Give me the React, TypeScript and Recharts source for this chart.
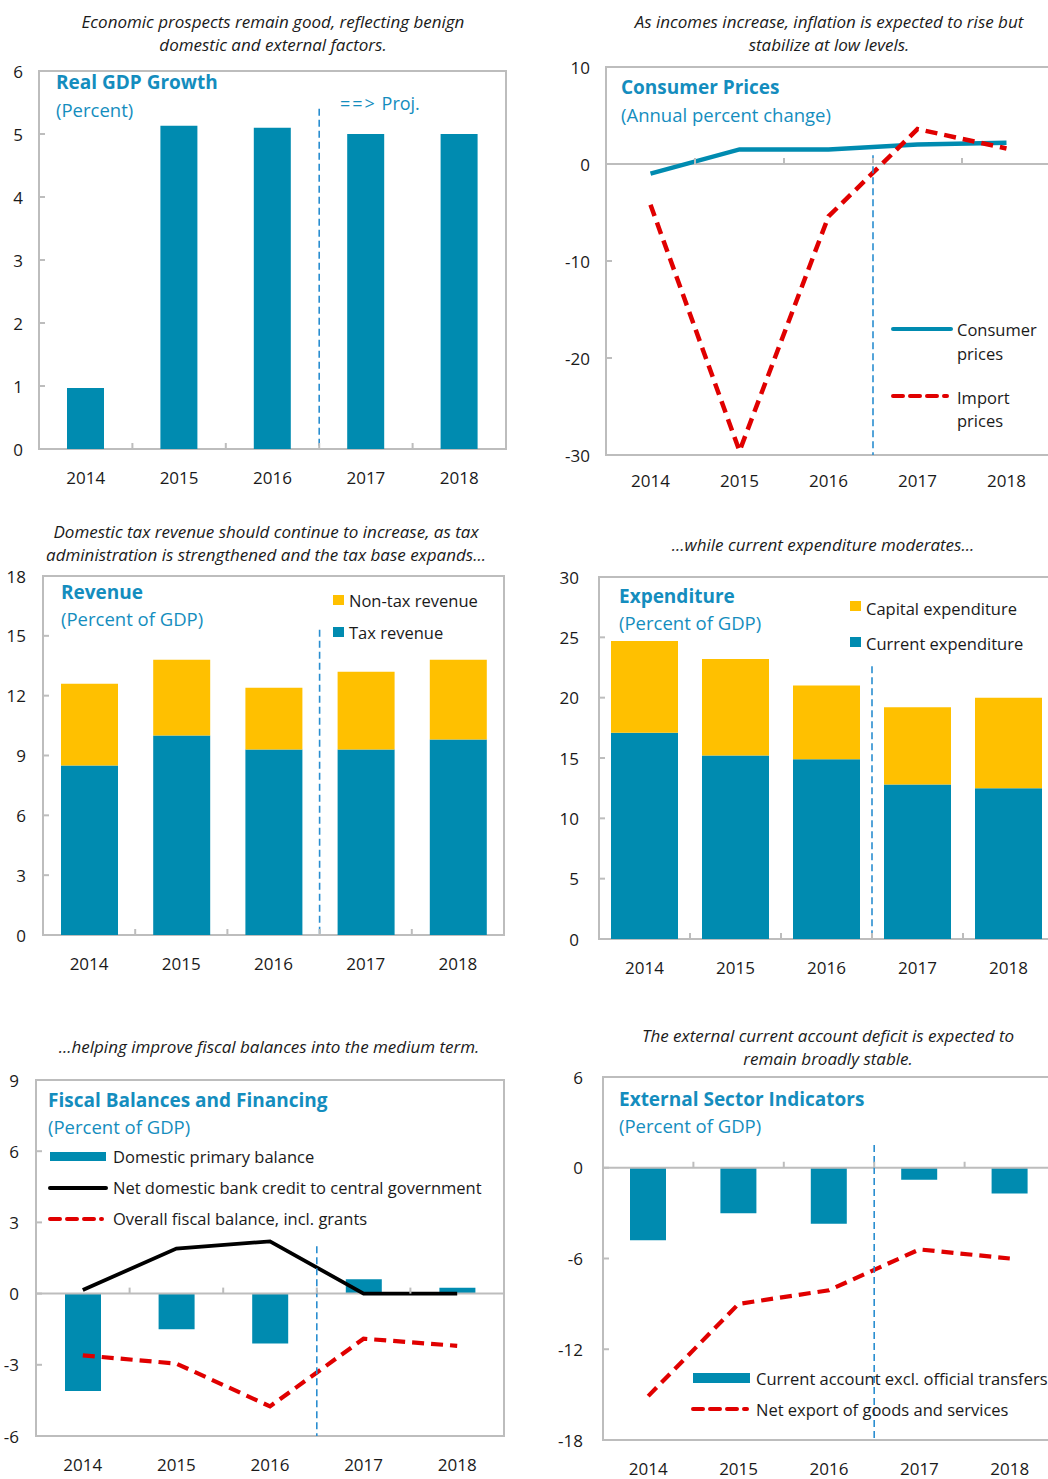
import React from 'react';
import { ComposedChart, Bar, Line, XAxis, YAxis, ReferenceLine } from 'recharts';

const years = ['2014', '2015', '2016', '2017', '2018'];

// values (percent / percent of GDP)
const gdpGrowth = [0.97, 5.13, 5.1, 5.0, 5.0];
const consumerPrices = [-1.0, 1.5, 1.5, 2.0, 2.2];
const importPrices = [-4.2, -29.6, -5.4, 3.6, 1.6];
const taxRevenue = [8.5, 10.0, 9.3, 9.3, 9.8];
const nonTaxRevenue = [4.1, 3.8, 3.1, 3.9, 4.0];
const currentExp = [17.1, 15.2, 14.9, 12.8, 12.5];
const capitalExp = [7.6, 8.0, 6.1, 6.4, 7.5];
const primaryBalance = [-4.1, -1.5, -2.1, 0.6, 0.25];
const bankCredit = [0.15, 1.9, 2.2, 0.0, 0.0];
const fiscalBalance = [-2.6, -2.95, -4.75, -1.9, -2.2];
const currentAccount = [-4.8, -3.0, -3.7, -0.8, -1.7];
const netExports = [-15.1, -9.0, -8.1, -5.4, -6.0];

const gdpTicks = [0, 1, 2, 3, 4, 5, 6];
const cpiTicks = [-30, -20, -10, 0, 10];
const revTicks = [0, 3, 6, 9, 12, 15, 18];
const expTicks = [0, 5, 10, 15, 20, 25, 30];
const fiscalTicks = [-6, -3, 0, 3, 6, 9];
const extTicks = [-18, -12, -6, 0, 6];

const FONT = '"Open Sans", "Noto Sans", sans-serif';
const BLUE = '#008BB0';
const TITLE = '#148DBE';
const YELLOW = '#FFC000';
const RED = '#E00000';
const FRAME = '#BDBDBD';
const TEXT = '#1a1a1a';
const PROJ = '#2A8ED0';

const AX_W = 50;
const AX_H = 45;
const PAD_T = 10;
const PAD_R = 4;

const SUB = 17;
const HEAD = 19;
const UNIT = 18.5;
const LEG = 16.5;

type Box = { x0: number; y0: number; x1: number; y1: number };

function Txt({ x, y, size = LEG, weight = 400, italic = false, color = TEXT, center = false, children }: any) {
  const style: React.CSSProperties = {
    position: 'absolute',
    left: x,
    top: y - size * 0.72,
    fontSize: size,
    lineHeight: `${size * 1.4}px`,
    fontFamily: FONT,
    fontWeight: weight,
    fontStyle: italic ? 'italic' : 'normal',
    color,
    whiteSpace: 'nowrap',
    transform: center ? 'translateX(-50%)' : undefined,
    textAlign: center ? 'center' : 'left',
  };
  return <div style={style}>{children}</div>;
}

function Panel({ box, ticks, projTop, zero, gap = 16, labelDy = 28, data, children }: any) {
  const b = box as Box;
  const pw = b.x1 - b.x0;
  const ph = b.y1 - b.y0;
  const lo = ticks[0];
  const hi = ticks[ticks.length - 1];
  const bw = pw / years.length;
  const zeroY = PAD_T + (hi / (hi - lo)) * ph;
  const bottom = PAD_T + ph;

  // year label plus a small tick on the zero line between categories
  const XTick = (props: any) => {
    const { x, payload } = props;
    const v = payload.value;
    return (
      <g>
        {v > 0 && (
          <line x1={x - bw / 2} x2={x - bw / 2} y1={zeroY} y2={zeroY - 6} stroke={FRAME} strokeWidth={2} />
        )}
        <text x={x} y={bottom + labelDy} textAnchor="middle" dominantBaseline="central" fontFamily={FONT} fontSize={17} fill={TEXT}>
          {years[v]}
        </text>
      </g>
    );
  };

  const YTick = (props: any) => {
    const { y, payload } = props;
    return (
      <g>
        <line x1={AX_W} x2={AX_W + 6} y1={y} y2={y} stroke={FRAME} strokeWidth={2} />
        <text x={AX_W - gap} y={y} textAnchor="end" dominantBaseline="central" fontFamily={FONT} fontSize={17} fill={TEXT}>
          {payload.value}
        </text>
      </g>
    );
  };

  return (
    <>
      <div
        style={{
          position: 'absolute',
          left: b.x0 - 1,
          top: b.y0 - 1,
          width: pw + 2,
          height: ph + 2,
          border: `2px solid ${FRAME}`,
          boxSizing: 'border-box',
        }}
      />
      <div style={{ position: 'absolute', left: b.x0 - AX_W, top: b.y0 - PAD_T }}>
        <ComposedChart
          width={pw + AX_W + PAD_R}
          height={ph + PAD_T + AX_H}
          data={data}
          margin={{ top: PAD_T, right: PAD_R, bottom: 0, left: 0 }}
        >
          <XAxis
            type="number"
            dataKey="i"
            domain={[-0.5, 4.5]}
            ticks={[0, 1, 2, 3, 4]}
            interval={0}
            tick={XTick}
            tickLine={false}
            axisLine={false}
            height={AX_H}
            allowDataOverflow
          />
          <YAxis
            type="number"
            domain={[lo, hi]}
            ticks={ticks}
            interval={0}
            tick={YTick}
            tickLine={false}
            axisLine={false}
            width={AX_W}
            allowDataOverflow
          />
          {zero && <ReferenceLine y={0} stroke={FRAME} strokeWidth={2} />}
          {children}
          <ReferenceLine
            segment={[
              { x: 2.5, y: projTop },
              { x: 2.5, y: lo },
            ]}
            stroke={PROJ}
            strokeWidth={1.6}
            strokeDasharray="7 4"
          />
        </ComposedChart>
      </div>
    </>
  );
}

function LineSwatch({ x, y, w = 56, color, dashed = false, thick = 4 }: any) {
  return (
    <svg style={{ position: 'absolute', left: x, top: y - 5 }} width={w} height={10}>
      <line x1={2} x2={w - 2} y1={5} y2={5} stroke={color} strokeWidth={thick} strokeLinecap="round" strokeDasharray={dashed ? '10 7' : undefined} />
    </svg>
  );
}

function Square({ x, y, w = 11, h = 10, color }: any) {
  return <div style={{ position: 'absolute', left: x, top: y, width: w, height: h, background: color }} />;
}

const gdpData = years.map((_, i) => ({ i, gdp: gdpGrowth[i] }));
const cpiData = years.map((_, i) => ({ i, cpi: consumerPrices[i], imp: importPrices[i] }));
const revData = years.map((_, i) => ({ i, tax: taxRevenue[i], nontax: nonTaxRevenue[i] }));
const expData = years.map((_, i) => ({ i, cur: currentExp[i], cap: capitalExp[i] }));
const fisData = years.map((_, i) => ({ i, prim: primaryBalance[i], credit: bankCredit[i], overall: fiscalBalance[i] }));
const extData = years.map((_, i) => ({ i, ca: currentAccount[i], nx: netExports[i] }));

export default function App() {
  return (
    <div
      style={{
        position: 'absolute',
        left: 0,
        top: 0,
        width: 1048,
        height: 1479,
        overflow: 'hidden',
        background: '#fff',
        fontFamily: FONT,
      }}
    >
      {/* subtitles */}
      <Txt x={273} y={22} italic center size={SUB}>Economic prospects remain good, reflecting benign</Txt>
      <Txt x={273} y={45} italic center size={SUB}>domestic and external factors.</Txt>
      <Txt x={829} y={22} italic center size={SUB}>As incomes increase, inflation is expected to rise but</Txt>
      <Txt x={829} y={45} italic center size={SUB}>stabilize at low levels.</Txt>
      <Txt x={266} y={532} italic center size={SUB}>Domestic tax revenue should continue to increase, as tax</Txt>
      <Txt x={266} y={555} italic center size={SUB}>administration is strengthened and the tax base expands...</Txt>
      <Txt x={823} y={545} italic center size={SUB}>...while current expenditure moderates...</Txt>
      <Txt x={269} y={1047} italic center size={SUB}>...helping improve fiscal balances into the medium term.</Txt>
      <Txt x={828} y={1036} italic center size={SUB}>The external current account deficit is expected to</Txt>
      <Txt x={828} y={1059} italic center size={SUB}>remain broadly stable.</Txt>

      {/* Real GDP growth */}
      <Panel box={{ x0: 39, y0: 71, x1: 506, y1: 449 }} ticks={gdpTicks} projTop={5.4} data={gdpData}>
        <Bar dataKey="gdp" fill={BLUE} barSize={37} isAnimationActive={false} />
      </Panel>
      <Txt x={56} y={83} size={HEAD} weight={700} color={TITLE}>Real GDP Growth</Txt>
      <Txt x={56} y={110} size={UNIT} color={TITLE}>(Percent)</Txt>
      <Txt x={340} y={104} size={18} color={TITLE}><span style={{ letterSpacing: 2 }}>==&gt;</span> Proj.</Txt>

      {/* Consumer prices */}
      <Panel box={{ x0: 606, y0: 67, x1: 1051, y1: 455 }} ticks={cpiTicks} projTop={0.9} zero labelDy={25} data={cpiData}>
        <Line type="linear" dataKey="cpi" stroke={BLUE} strokeWidth={4.5} dot={false} isAnimationActive={false} />
        <Line type="linear" dataKey="imp" stroke={RED} strokeWidth={4.5} strokeDasharray="12 7" dot={false} isAnimationActive={false} />
      </Panel>
      <Txt x={621} y={88} size={HEAD} weight={700} color={TITLE}>Consumer Prices</Txt>
      <Txt x={621} y={115} size={UNIT} color={TITLE}>(Annual percent change)</Txt>
      <LineSwatch x={891} y={329} w={62} color={BLUE} />
      <Txt x={957} y={330}>Consumer</Txt>
      <Txt x={957} y={354}>prices</Txt>
      <LineSwatch x={891} y={396} w={58} color={RED} dashed />
      <Txt x={957} y={398}>Import</Txt>
      <Txt x={957} y={421}>prices</Txt>

      {/* Revenue */}
      <Panel box={{ x0: 43, y0: 576, x1: 504, y1: 935 }} ticks={revTicks} projTop={15.3} gap={17} data={revData}>
        <Bar dataKey="tax" stackId="r" fill={BLUE} barSize={57} isAnimationActive={false} />
        <Bar dataKey="nontax" stackId="r" fill={YELLOW} barSize={57} isAnimationActive={false} />
      </Panel>
      <Txt x={61} y={593} size={HEAD} weight={700} color={TITLE}>Revenue</Txt>
      <Txt x={61} y={619} size={UNIT} color={TITLE}>(Percent of GDP)</Txt>
      <Square x={333} y={595} color={YELLOW} />
      <Txt x={349} y={601}>Non-tax revenue</Txt>
      <Square x={333} y={627} color={BLUE} />
      <Txt x={349} y={633}>Tax revenue</Txt>

      {/* Expenditure */}
      <Panel box={{ x0: 599, y0: 577, x1: 1054, y1: 939 }} ticks={expTicks} projTop={22.6} gap={20} data={expData}>
        <Bar dataKey="cur" stackId="e" fill={BLUE} barSize={67} isAnimationActive={false} />
        <Bar dataKey="cap" stackId="e" fill={YELLOW} barSize={67} isAnimationActive={false} />
      </Panel>
      <Txt x={619} y={597} size={HEAD} weight={700} color={TITLE}>Expenditure</Txt>
      <Txt x={619} y={623} size={UNIT} color={TITLE}>(Percent of GDP)</Txt>
      <Square x={850} y={601} color={YELLOW} />
      <Txt x={866} y={609}>Capital expenditure</Txt>
      <Square x={850} y={637} color={BLUE} />
      <Txt x={866} y={644}>Current expenditure</Txt>

      {/* Fiscal balances */}
      <Panel box={{ x0: 36, y0: 1080, x1: 504, y1: 1436 }} ticks={fiscalTicks} projTop={2.0} zero gap={17} data={fisData}>
        <Bar dataKey="prim" fill={BLUE} barSize={36} isAnimationActive={false} />
        <Line type="linear" dataKey="credit" stroke="#000" strokeWidth={3.8} dot={false} isAnimationActive={false} />
        <Line type="linear" dataKey="overall" stroke={RED} strokeWidth={4.2} strokeDasharray="12 7" dot={false} isAnimationActive={false} />
      </Panel>
      <Txt x={48} y={1101} size={HEAD} weight={700} color={TITLE}>Fiscal Balances and Financing</Txt>
      <Txt x={48} y={1127} size={UNIT} color={TITLE}>(Percent of GDP)</Txt>
      <Square x={50} y={1152} w={56} h={9} color={BLUE} />
      <Txt x={113} y={1157}>Domestic primary balance</Txt>
      <LineSwatch x={48} y={1188} w={60} color="#000" />
      <Txt x={113} y={1188}>Net domestic bank credit to central government</Txt>
      <LineSwatch x={48} y={1219} w={56} color={RED} dashed />
      <Txt x={113} y={1219}>Overall fiscal balance, incl. grants</Txt>

      {/* External sector */}
      <Panel box={{ x0: 603, y0: 1077, x1: 1055, y1: 1440 }} ticks={extTicks} projTop={1.5} zero gap={20} data={extData}>
        <Bar dataKey="ca" fill={BLUE} barSize={36} isAnimationActive={false} />
        <Line type="linear" dataKey="nx" stroke={RED} strokeWidth={4.2} strokeDasharray="12 7" dot={false} isAnimationActive={false} />
      </Panel>
      <Txt x={619} y={1100} size={HEAD} weight={700} color={TITLE}>External Sector Indicators</Txt>
      <Txt x={619} y={1126} size={UNIT} color={TITLE}>(Percent of GDP)</Txt>
      <Square x={693} y={1373} w={57} h={10} color={BLUE} />
      <Txt x={756} y={1379}>Current account excl. official transfers</Txt>
      <LineSwatch x={691} y={1409} w={58} color={RED} dashed />
      <Txt x={756} y={1410}>Net export of goods and services</Txt>
    </div>
  );
}
